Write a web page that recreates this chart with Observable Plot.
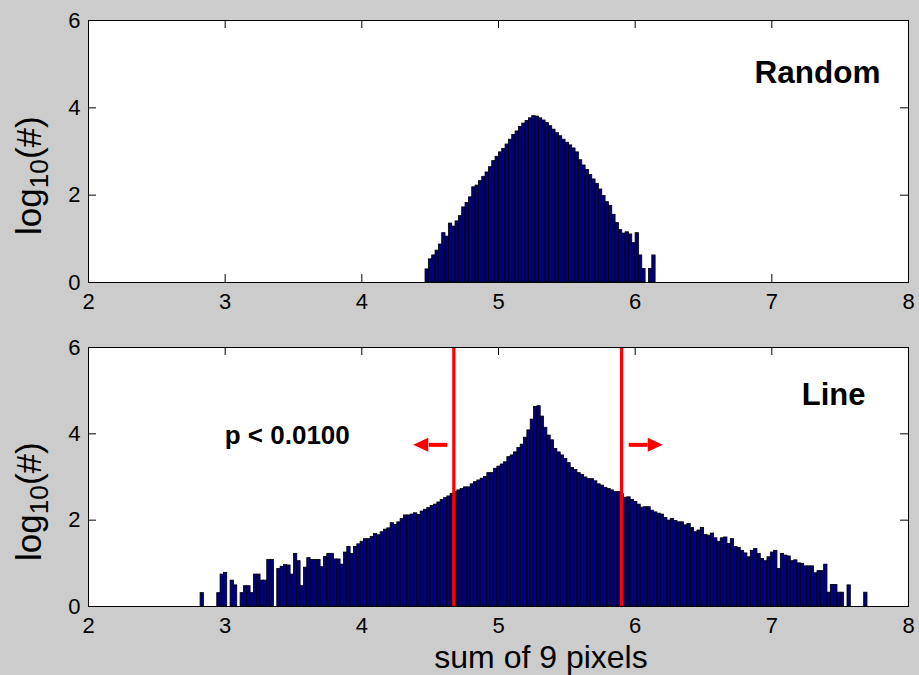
<!DOCTYPE html>
<html><head><meta charset="utf-8">
<script src="https://cdn.jsdelivr.net/npm/d3@7"></script>
<script src="https://cdn.jsdelivr.net/npm/@observablehq/plot@0.6"></script>
<style>
html,body{margin:0;padding:0;background:#cccccc;}
#fig{position:relative;width:919px;height:675px;background:#cccccc;font-family:"Liberation Sans",Arial,Helvetica,sans-serif;overflow:hidden;color:#000}
.panel{position:absolute;left:0}
.ylab{position:absolute;font-size:35px;white-space:nowrap;line-height:1;transform:rotate(-90deg);transform-origin:0 0;}
.ylab sub{font-size:0.75em;vertical-align:-0.28em;line-height:0}
.xlab{position:absolute;font-size:32px;white-space:nowrap;line-height:1;transform:translateX(-50%)}
</style></head><body>
<div id="fig">
 <div id="top" class="panel" style="top:0"></div>
 <div id="bottom" class="panel" style="top:310px"></div>
 <div class="ylab" style="left:11px;top:235px">log<sub>10</sub>(#)</div>
 <div class="ylab" style="left:11px;top:561px">log<sub>10</sub>(#)</div>
 <div class="xlab" style="left:541px;top:641px">sum of 9 pixels</div>
</div>
<script>
// ---- data ----
const xTicks = [2, 3, 4, 5, 6, 7, 8];
const yTicks = [0, 2, 4, 6];
const binWidth = 0.0244;

// "Random" panel: log10(count) per bin, bins start at randomStart
const randomStart = 4.466;
const randomLog = [
  0.30, 0.53, 0.62, 0.73, 0.87, 1.13, 1.05, 1.35, 1.28, 1.40,
  1.52, 1.72, 1.82, 1.95, 2.18, 2.22, 2.32, 2.42, 2.52, 2.64,
  2.78, 2.88, 2.98, 3.06, 3.16, 3.27, 3.38, 3.46, 3.56, 3.64,
  3.70, 3.76, 3.81, 3.80, 3.76, 3.71, 3.65, 3.58, 3.50, 3.42,
  3.35, 3.27, 3.20, 3.14, 3.07, 2.98, 2.80, 2.68, 2.58, 2.46,
  2.36, 2.26, 2.13, 1.98, 1.84, 1.75, 1.55, 1.36, 1.20, 1.12,
  1.15, 1.10, 0.90, 1.13, 0.62, 0.31, 0, 0.31, 0.62
];

// "Line" panel: log10(count) per bin, bins start at lineStart
const lineStart = 2.82;
const lineLog = [
  0.31, 0, 0, 0, 0, 0.31, 0.74, 0.78, 0, 0.60,
  0.49, 0, 0.31, 0.47, 0.47, 0.31, 0.74, 0.74, 0.60, 0.60,
  1.08, 1.08, 0, 0.87, 0.92, 0.96, 0.95, 0.74, 1.22, 1.05,
  0.47, 0.90, 1.12, 1.08, 1.08, 1.08, 0.91, 1.15, 1.22, 1.22,
  1.09, 1.09, 0.97, 1.25, 1.38, 1.22, 1.38, 1.44, 1.50, 1.56,
  1.56, 1.61, 1.68, 1.65, 1.72, 1.78, 1.81, 1.93, 1.89, 1.95,
  2.03, 2.11, 2.11, 2.13, 2.16, 2.12, 2.20, 2.24, 2.28, 2.33,
  2.36, 2.41, 2.47, 2.51, 2.55, 2.61, 2.65, 2.69, 2.72, 2.76,
  2.76, 2.83, 2.88, 2.92, 2.96, 3.00, 3.09, 3.09, 3.19, 3.24,
  3.29, 3.34, 3.46, 3.50, 3.57, 3.67, 3.75, 3.91, 4.08, 4.33,
  4.62, 4.64, 4.40, 4.14, 3.96, 3.85, 3.65, 3.57, 3.50, 3.42,
  3.32, 3.21, 3.16, 3.09, 3.05, 2.99, 2.95, 2.95, 2.90, 2.83,
  2.80, 2.75, 2.72, 2.69, 2.65, 2.65, 2.60, 2.52, 2.53, 2.47,
  2.42, 2.36, 2.29, 2.30, 2.30, 2.22, 2.18, 2.15, 2.13, 2.05,
  1.99, 2.03, 1.98, 1.95, 1.95, 1.88, 1.91, 1.82, 1.72, 1.76,
  1.82, 1.66, 1.64, 1.69, 1.58, 1.50, 1.58, 1.60, 1.45, 1.56,
  1.38, 1.36, 1.29, 1.23, 1.14, 1.29, 1.33, 1.22, 1.10, 1.05,
  1.14, 1.25, 1.29, 0.87, 1.22, 1.18, 1.16, 1.05, 1.07, 1.00,
  0.99, 0.93, 0.93, 0.93, 0.77, 0.82, 0.82, 0.97, 0.32, 0.50,
  0.50, 0.32, 0.32, 0, 0.49, 0, 0, 0, 0, 0.32
];

// significance cut-offs (x) and arrows
const cutoffs = [4.673, 5.900];
const arrowsLeft = [{xTail: 4.625, xBase: 4.490, xTip: 4.376, y: 3.745}];
const arrowsRight = [{xTail: 5.953, xBase: 6.090, xTip: 6.202, y: 3.745}];

const randomNotes = [{text: "Random", x: 7.795, y: 4.80}];
const lineNotes = [{text: "Line", x: 7.685, y: 4.90}];
const pNotes = [{text: "p < 0.0100", x: 2.997, y: 3.96}];

// ---- helpers ----
function bins(start, values) {
  return values.map((h, i) => ({x1: start + i * binWidth, x2: start + (i + 1) * binWidth, h}));
}
const FONT = '"Liberation Sans", Arial, Helvetica, sans-serif';
const W = 919, ML = 88, MR = 11, TICK = 8;
const plotW = W - ML - MR;

function panel({height, marginTop, marginBottom, data, extra}) {
  const plotH = height - marginTop - marginBottom;
  return Plot.plot({
    width: W, height, marginLeft: ML, marginRight: MR, marginTop, marginBottom,
    x: {domain: [2, 8]},
    y: {domain: [0, 6]},
    style: {background: "transparent", fontFamily: FONT, fontSize: "22px", color: "black", overflow: "visible"},
    marks: [
      Plot.frame({fill: "white", stroke: "none"}),
      Plot.tickX(xTicks, {x: d => d, insetTop: plotH - TICK, stroke: "black"}),
      Plot.tickX(xTicks, {x: d => d, insetBottom: plotH - TICK, stroke: "black"}),
      Plot.tickY(yTicks, {y: d => d, insetRight: plotW - TICK, stroke: "black"}),
      Plot.tickY(yTicks, {y: d => d, insetLeft: plotW - TICK, stroke: "black"}),
      Plot.rectY(data, {x1: "x1", x2: "x2", y1: 0, y2: "h", fill: "#000080", stroke: "black", strokeWidth: 0.8}),
      ...extra,
      Plot.frame({stroke: "black", strokeWidth: 1}),
      Plot.axisX({ticks: xTicks, tickSize: 0, tickPadding: 11, fontSize: 22, label: null, tickFormat: d => String(d)}),
      Plot.axisY({ticks: yTicks, tickSize: 0, tickPadding: 8, fontSize: 22, label: null, tickFormat: d => String(d)})
    ]
  });
}

const leftHead = {draw(ctx) { ctx.moveTo(0, 0); ctx.lineTo(15, -7); ctx.lineTo(15, 7); ctx.closePath(); }};
const rightHead = {draw(ctx) { ctx.moveTo(0, 0); ctx.lineTo(-15, -7); ctx.lineTo(-15, 7); ctx.closePath(); }};

const topChart = panel({
  height: 310, marginTop: 20, marginBottom: 28,
  data: bins(randomStart, randomLog),
  extra: [
    Plot.text(randomNotes, {x: "x", y: "y", text: "text", textAnchor: "end", fontWeight: "bold", fontSize: 31.5, fill: "black"})
  ]
});

const bottomChart = panel({
  height: 365, marginTop: 37, marginBottom: 69,
  data: bins(lineStart, lineLog),
  extra: [
    Plot.ruleX(cutoffs, {x: d => d, stroke: "#ff0000", strokeWidth: 3.2}),
    Plot.link(arrowsLeft, {x1: "xTail", x2: "xBase", y1: "y", y2: "y", stroke: "#ff0000", strokeWidth: 4}),
    Plot.link(arrowsRight, {x1: "xTail", x2: "xBase", y1: "y", y2: "y", stroke: "#ff0000", strokeWidth: 4}),
    Plot.dot(arrowsLeft, {x: "xTip", y: "y", symbol: leftHead, fill: "#ff0000", stroke: "none", r: 5}),
    Plot.dot(arrowsRight, {x: "xTip", y: "y", symbol: rightHead, fill: "#ff0000", stroke: "none", r: 5}),
    Plot.text(lineNotes, {x: "x", y: "y", text: "text", textAnchor: "end", fontWeight: "bold", fontSize: 31, fill: "black"}),
    Plot.text(pNotes, {x: "x", y: "y", text: "text", textAnchor: "start", fontWeight: "bold", fontSize: 26, fill: "black"})
  ]
});

document.getElementById("top").appendChild(topChart);
document.getElementById("bottom").appendChild(bottomChart);
</script>
</body></html>
